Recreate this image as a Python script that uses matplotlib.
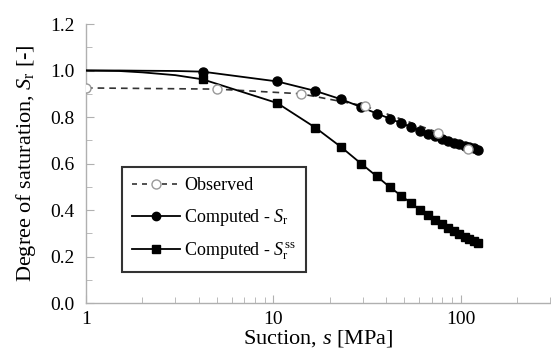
import matplotlib
matplotlib.use("Agg")
import matplotlib.pyplot as plt
from matplotlib.ticker import FixedLocator, NullFormatter

plt.rcParams['font.family'] = ['Liberation Serif', 'DejaVu Serif']
plt.rcParams['mathtext.fontset'] = 'custom'
plt.rcParams['mathtext.rm'] = 'Liberation Serif'
plt.rcParams['mathtext.it'] = 'Liberation Serif:italic'

# Observed data
obs_s = [1.0, 5.0, 14.0, 31.0, 76.0, 110.0]
obs_sr = [0.925, 0.920, 0.900, 0.847, 0.733, 0.662]

# Computed suction points (markers)
comp_s = [4.2, 10.5, 16.8, 23.1, 29.4, 35.7, 42.0, 48.3, 54.6, 60.9,
          67.2, 73.5, 79.8, 86.1, 92.4, 98.7, 105.0, 111.3, 117.6, 123.9]
comp_sr = [0.995, 0.953, 0.912, 0.876, 0.843, 0.815, 0.793, 0.773, 0.757, 0.741,
           0.728, 0.717, 0.706, 0.697, 0.689, 0.682, 0.676, 0.670, 0.665, 0.660]
comp_sss = [0.962, 0.860, 0.754, 0.670, 0.600, 0.545, 0.498, 0.461, 0.429, 0.400,
            0.377, 0.355, 0.338, 0.322, 0.308, 0.295, 0.284, 0.274, 0.265, 0.257]

# Low-suction part of the computed curves (line only)
low_s = [1.0, 1.5, 2.0, 3.0]
low_sr = [1.000, 1.000, 0.999, 0.998]
low_sss = [1.000, 0.998, 0.992, 0.980]

fig = plt.figure(figsize=(5.51, 3.53), dpi=100)
ax = fig.add_axes([0.156, 0.1416, 0.842, 0.7904])

ax.plot(low_s + comp_s, low_sr + comp_sr, color='black', lw=1.3, zorder=3)
ax.plot(low_s + comp_s, low_sss + comp_sss, color='black', lw=1.3, zorder=3)
ax.plot(comp_s, comp_sr, 'o', color='black', ms=6.5, zorder=4)
ax.plot(comp_s, comp_sss, 's', color='black', ms=6, zorder=4)
ax.plot(obs_s, obs_sr, '--', color='#333333', lw=1.2, dashes=(4, 3), zorder=2)
ax.plot(obs_s, obs_sr, 'o', mfc='white', mec='#999999', ms=6.5, mew=1.0, zorder=5)

# legend proxies
h1, = ax.plot([], [], '--', color='#333333', lw=1.2, dashes=(3, 3), marker='o',
              mfc='white', mec='#999999', ms=6.5)
h2, = ax.plot([], [], '-', color='black', lw=1.3, marker='o', ms=6)
h3, = ax.plot([], [], '-', color='black', lw=1.3, marker='s', ms=6)
leg = ax.legend([h1, h2, h3],
                ['Observed', r'Computed - $\mathit{S}_{\mathrm{r}}$',
                 r'Computed - $\mathit{S}_{\mathrm{r}}^{\mathrm{ss}}$'],
                loc='upper left', bbox_to_anchor=(0.077, 0.486), borderaxespad=0,
                fontsize=13, frameon=True, fancybox=False, edgecolor='black',
                handlelength=2.7, labelspacing=0.7, borderpad=0.55, handletextpad=0.2)
leg.get_frame().set_linewidth(1.5)

ax.set_xscale('log')
ax.set_xlim(1, 300)
ax.set_ylim(0, 1.2)
ax.set_yticks([0.0, 0.2, 0.4, 0.6, 0.8, 1.0, 1.2])
ax.set_yticklabels(['0.0', '0.2', '0.4', '0.6', '0.8', '1.0', '1.2'])
ax.yaxis.set_minor_locator(FixedLocator([0.1, 0.3, 0.5, 0.7, 0.9, 1.1]))
ax.set_xticks([1, 10, 100])
ax.set_xticklabels(['1', '10', '100'])
ax.xaxis.set_minor_formatter(NullFormatter())

for sp in ['top', 'right']:
    ax.spines[sp].set_visible(False)
for sp in ['left', 'bottom']:
    ax.spines[sp].set_color('#b0b0b0')
    ax.spines[sp].set_linewidth(1.0)
ax.tick_params(which='both', direction='in', color='#b0b0b0', labelsize=14, labelcolor='black')
ax.tick_params(which='major', length=6)
ax.tick_params(axis='y', which='major', pad=8)
ax.tick_params(axis='x', which='major', pad=6)
ax.tick_params(which='minor', length=4)

ax.set_xlabel(r'Suction, $\mathit{s}$ [MPa]', fontsize=16, labelpad=0)
ax.set_ylabel(r'Degree of saturation, $\mathit{S}_{\mathrm{r}}$ [-]', fontsize=16, labelpad=9)

fig.savefig('out.png', dpi=100)
